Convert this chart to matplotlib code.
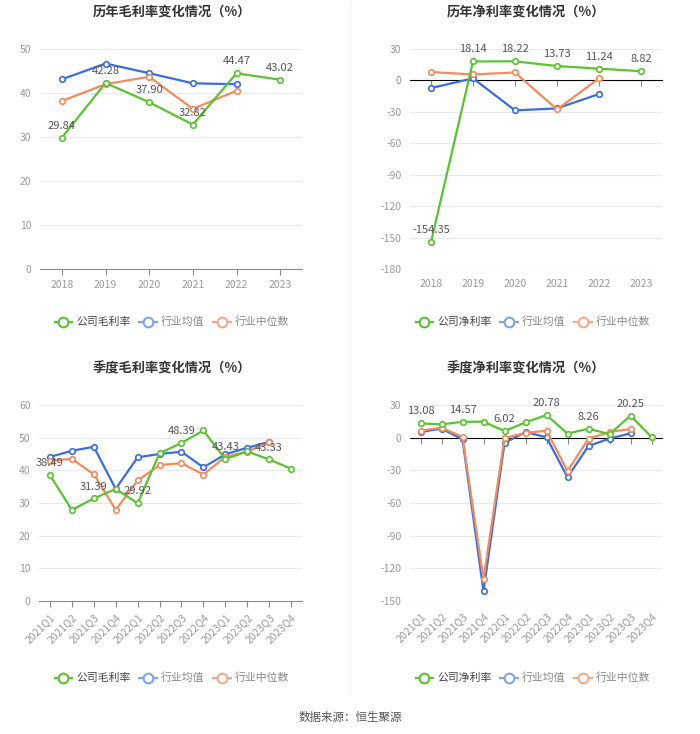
import matplotlib
matplotlib.use("Agg")
import matplotlib.pyplot as plt
from matplotlib.lines import Line2D

plt.rcParams['font.family'] = ['Noto Sans CJK SC', 'DejaVu Sans']
plt.rcParams['axes.unicode_minus'] = False

# ---- data ----
years = ['2018', '2019', '2020', '2021', '2022', '2023']
quarters = ['2021Q1', '2021Q2', '2021Q3', '2021Q4', '2022Q1', '2022Q2',
            '2022Q3', '2022Q4', '2023Q1', '2023Q2', '2023Q3', '2023Q4']

gross_company = [29.84, 42.28, 37.90, 32.82, 44.47, 43.02]
gross_mean = [43.1, 46.7, 44.5, 42.2, 42.0]
gross_median = [38.2, 42.0, 43.7, 36.4, 40.5]

net_company = [-154.35, 18.14, 18.22, 13.73, 11.24, 8.82]
net_mean = [-7.3, 2.0, -28.6, -26.7, -13.0]
net_median = [8.0, 5.7, 7.6, -27.7, 1.9]

q_gross_company = [38.49, 27.9, 31.39, 34.3, 29.92, 45.2, 48.39, 52.2, 43.43, 45.8, 43.33, 40.5]
q_gross_mean = [44.1, 46.0, 47.2, 34.3, 44.0, 45.0, 45.7, 40.9, 44.9, 46.9, 48.7]
q_gross_median = [43.0, 43.5, 38.8, 27.9, 36.9, 41.6, 42.2, 38.7, 44.1, 45.7, 48.6]

q_net_company = [13.08, 12.2, 14.57, 14.7, 6.02, 14.1, 20.78, 3.7, 8.26, 3.1, 20.25, 0.5]
q_net_mean = [5.2, 8.3, -1.5, -141.0, -4.9, 5.2, 0.3, -36.4, -7.6, -0.9, 4.0]
q_net_median = [6.4, 9.2, 0.6, -130.0, -0.3, 4.3, 6.4, -30.6, -0.9, 5.2, 8.0]

GREEN = '#5AC32F'
BLUE = '#3A6EE0'
ORANGE = '#F58A5C'
GRID = '#E6E9F0'
TICK = '#9A9A9A'

W, H = 700, 734
fig = plt.figure(figsize=(7.0, 7.34), dpi=100)


def make_ax(left, right, top_px, bottom_px):
    return fig.add_axes([left / W, 1 - bottom_px / H, (right - left) / W, (bottom_px - top_px) / H])


def draw_panel(ax, cats, company, mean, median, ylim, yticks, label_idx, rotate, zero_axis):
    x = list(range(len(cats)))
    ax.set_xlim(-0.5, len(cats) - 0.5)
    ax.set_ylim(*ylim)
    ax.set_yticks(yticks)
    for t in yticks:
        if t == 0:
            continue
        ax.axhline(t, color=GRID, lw=0.8, zorder=0)
    for s in ['left', 'right', 'top']:
        ax.spines[s].set_visible(False)
    ax.tick_params(axis='y', length=0, labelsize=7.5, labelcolor=TICK, pad=6)
    ax.set_xticks(x)
    if rotate:
        ax.set_xticklabels(cats, rotation=45, ha='right', rotation_mode='anchor')
    else:
        ax.set_xticklabels(cats)
    if zero_axis:
        # axis line sits on zero, labels stay at the bottom
        ax.spines['bottom'].set_visible(False)
        ax.tick_params(axis='x', length=0, labelsize=7.5, labelcolor=TICK, pad=7)
        pos = (0 - ylim[0]) / (ylim[1] - ylim[0])
        sec = ax.secondary_xaxis(pos)
        sec.set_xticks(x)
        sec.tick_params(axis='x', length=4, color='#8A8A8A', labelbottom=False, labeltop=False,
                        direction='out', top=False, bottom=True)
        sec.spines['bottom'].set_color('#8A8A8A')
        sec.spines['bottom'].set_linewidth(1.0)
    else:
        ax.spines['bottom'].set_color('#8A8A8A')
        ax.tick_params(axis='x', length=4, color='#8A8A8A', labelsize=7.5, labelcolor=TICK, pad=4)

    mk = dict(marker='o', markersize=4, markerfacecolor='white', markeredgewidth=1.2, lw=1.6)
    ax.plot(x[:len(mean)], mean, color=BLUE, zorder=3, **mk)
    ax.plot(x[:len(median)], median, color=ORANGE, zorder=3, **mk)
    ax.plot(x, company, color=GREEN, zorder=4, **mk)
    for i in label_idx:
        ax.annotate(f'{company[i]:.2f}', (x[i], company[i]), xytext=(0, 5), textcoords='offset points',
                    ha='center', va='bottom', fontsize=8, color='#555555', zorder=5)


ax1 = make_ax(40, 302, 49, 269)
draw_panel(ax1, years, gross_company, gross_mean, gross_median, (0, 50), [0, 10, 20, 30, 40, 50],
           range(6), False, False)
ax2 = make_ax(410, 662, 49, 269)
draw_panel(ax2, years, net_company, net_mean, net_median, (-180, 30), [-180, -150, -120, -90, -60, -30, 0, 30],
           range(6), False, True)
ax3 = make_ax(39, 302, 405, 601)
draw_panel(ax3, quarters, q_gross_company, q_gross_mean, q_gross_median, (0, 60), [0, 10, 20, 30, 40, 50, 60],
           range(0, 12, 2), True, False)
ax4 = make_ax(410, 662, 405, 601)
draw_panel(ax4, quarters, q_net_company, q_net_mean, q_net_median, (-150, 30), [-150, -120, -90, -60, -30, 0, 30],
           range(0, 12, 2), True, True)

# titles
title_kw = dict(ha='center', va='center', fontsize=9.5, fontweight='bold', color='#333333')
fig.text(172 / W, 1 - 12 / H, '历年毛利率变化情况（%）', **title_kw)
fig.text(526 / W, 1 - 12 / H, '历年净利率变化情况（%）', **title_kw)
fig.text(172 / W, 1 - 368 / H, '季度毛利率变化情况（%）', **title_kw)
fig.text(526 / W, 1 - 368 / H, '季度净利率变化情况（%）', **title_kw)


def legend(cx_px, cy_px, first):
    mk = dict(marker='o', markersize=7, markerfacecolor='white', markeredgewidth=1.5, lw=1.6)
    handles = [Line2D([], [], color=GREEN, **mk), Line2D([], [], color='#7FA3EC', **mk),
               Line2D([], [], color='#F6A98A', **mk)]
    leg = fig.legend(handles, [first, '行业均值', '行业中位数'], loc='center',
                     bbox_to_anchor=(cx_px / W, 1 - cy_px / H), ncol=3, frameon=False,
                     fontsize=7.8, handlelength=1.6, handletextpad=0.4, columnspacing=0.8)
    cols = ['#444444', '#888888', '#888888']
    for t, c in zip(leg.get_texts(), cols):
        t.set_color(c)


legend(172, 322, '公司毛利率')
legend(533, 322, '公司净利率')
legend(172, 678, '公司毛利率')
legend(533, 678, '公司净利率')

# divider
fig.add_artist(Line2D([350 / W, 350 / W], [1 - 2 / H, 1 - 695 / H], color='#F2F2F2', lw=0.8))

fig.text(0.5, 1 - 717 / H, '数据来源：恒生聚源', ha='center', va='center', fontsize=8.3, color='#555555')

fig.savefig('out.png', dpi=100, facecolor='white')
